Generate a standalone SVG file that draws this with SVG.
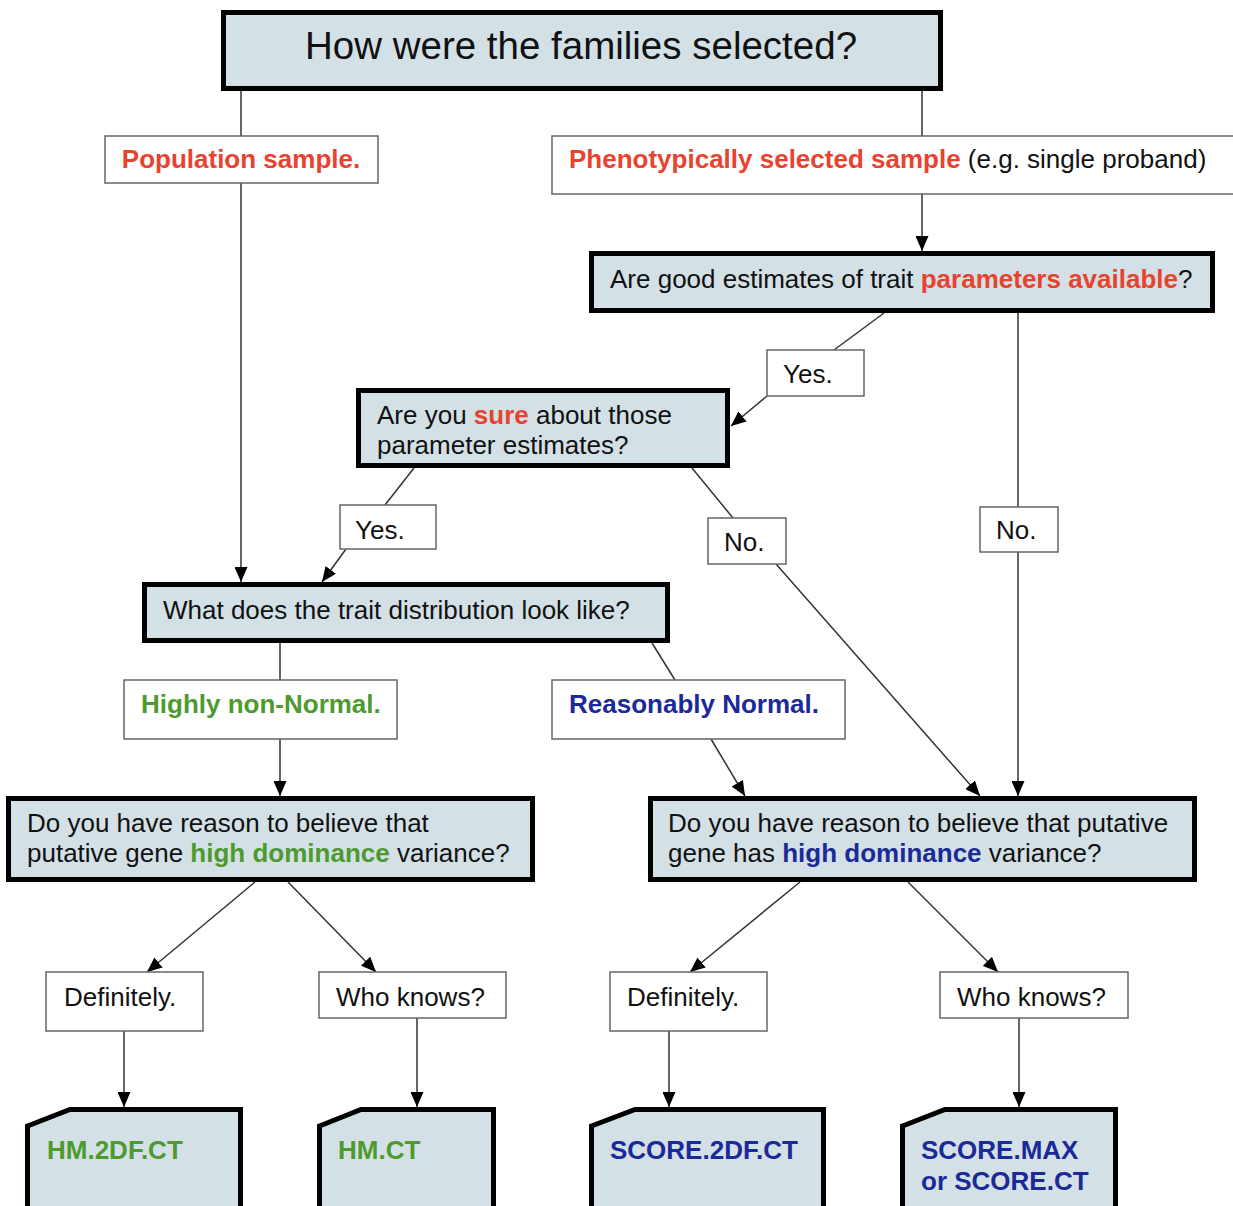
<svg xmlns="http://www.w3.org/2000/svg" width="1233" height="1206" viewBox="0 0 1233 1206">
<defs>
<marker id="ah" viewBox="0 0 15 13" refX="15" refY="6.5" markerWidth="15" markerHeight="13" markerUnits="userSpaceOnUse" orient="auto">
<path d="M0,0 L15,6.5 L0,13 Z" fill="#000"/>
</marker>
<style>
text{font-family:"Liberation Sans",Arial,sans-serif;font-size:26px;fill:#111}
.q{fill:#d3e1e6;stroke:#000;stroke-width:5}
.l{fill:#fff;stroke:#666;stroke-width:1.5}
.c line{stroke:#333;stroke-width:1.5}
.a{marker-end:url(#ah)}
.b{font-weight:bold}
.r{fill:#e8432f}
.g{fill:#4e9a2e}
.u{fill:#1b2a98}
</style>
</defs>
<rect width="1233" height="1206" fill="#fff"/>
<g class="c">
<line x1="241" y1="91" x2="241" y2="136"/>
<line class="a" x1="241" y1="183" x2="241" y2="582"/>
<line x1="922" y1="91" x2="922" y2="136"/>
<line class="a" x1="922" y1="194" x2="922" y2="251"/>
<line x1="884" y1="313" x2="834" y2="350"/>
<line class="a" x1="767" y1="396" x2="731" y2="426"/>
<line x1="1018" y1="313" x2="1018" y2="507"/>
<line class="a" x1="1018" y1="552" x2="1018" y2="796"/>
<line x1="414" y1="468" x2="385" y2="505"/>
<line class="a" x1="346" y1="549" x2="322" y2="582"/>
<line x1="692" y1="468" x2="733" y2="518"/>
<line class="a" x1="776" y1="564" x2="980" y2="796"/>
<line x1="280" y1="643" x2="280" y2="680"/>
<line class="a" x1="280" y1="739" x2="280" y2="796"/>
<line x1="652" y1="643" x2="675" y2="680"/>
<line class="a" x1="711" y1="739" x2="745" y2="796"/>
<line class="a" x1="255" y1="882" x2="147" y2="972"/>
<line class="a" x1="288" y1="882" x2="376" y2="972"/>
<line class="a" x1="800" y1="882" x2="690" y2="972"/>
<line class="a" x1="908" y1="882" x2="998" y2="972"/>
<line class="a" x1="124" y1="1031" x2="124" y2="1107"/>
<line class="a" x1="417" y1="1018" x2="417" y2="1107"/>
<line class="a" x1="669" y1="1031" x2="669" y2="1107"/>
<line class="a" x1="1019" y1="1018" x2="1019" y2="1107"/>
</g>
<g id="n-title">
<rect class="q" x="223.5" y="12.5" width="717" height="76"/>
<text x="581" y="59" text-anchor="middle" style="font-size:38.5px">How were the families selected?</text>
</g>
<g id="n-pop">
<rect class="l" x="105" y="136" width="273" height="47"/>
<text class="b r" x="241" y="168" text-anchor="middle">Population sample.</text>
</g>
<g id="n-pheno">
<rect class="l" x="552" y="136" width="685" height="58"/>
<text x="569" y="168"><tspan class="b r">Phenotypically selected sample</tspan> (e.g. single proband)</text>
</g>
<g id="n-params">
<rect class="q" x="591.5" y="253.5" width="621" height="57"/>
<text x="610" y="288">Are good estimates of trait <tspan class="b r">parameters available</tspan>?</text>
</g>
<g id="n-yes1">
<rect class="l" x="767" y="350" width="97" height="46"/>
<text x="783" y="383">Yes.</text>
</g>
<g id="n-sure">
<rect class="q" x="358.5" y="390.5" width="369" height="75"/>
<text x="377" y="424">Are you <tspan class="b r">sure</tspan> about those</text>
<text x="377" y="454">parameter estimates?</text>
</g>
<g id="n-yes2">
<rect class="l" x="340" y="505" width="96" height="44"/>
<text x="355" y="539">Yes.</text>
</g>
<g id="n-no1">
<rect class="l" x="708" y="518" width="78" height="46"/>
<text x="724" y="551">No.</text>
</g>
<g id="n-no2">
<rect class="l" x="980" y="507" width="78" height="45"/>
<text x="996" y="539">No.</text>
</g>
<g id="n-trait">
<rect class="q" x="144.5" y="584.5" width="523" height="56"/>
<text x="163" y="619">What does the trait distribution look like?</text>
</g>
<g id="n-highly">
<rect class="l" x="124" y="680" width="273" height="59"/>
<text class="b g" x="141" y="713">Highly non-Normal.</text>
</g>
<g id="n-reason">
<rect class="l" x="552" y="680" width="293" height="59"/>
<text class="b u" x="569" y="713">Reasonably Normal.</text>
</g>
<g id="n-domL">
<rect class="q" x="8.5" y="798.5" width="524" height="81"/>
<text x="27" y="832">Do you have reason to believe that</text>
<text x="27" y="862">putative gene <tspan class="b g">high dominance</tspan> variance?</text>
</g>
<g id="n-domR">
<rect class="q" x="650.5" y="798.5" width="544" height="81"/>
<text x="668" y="832">Do you have reason to believe that putative</text>
<text x="668" y="862">gene has <tspan class="b u">high dominance</tspan> variance?</text>
</g>
<g id="n-defL">
<rect class="l" x="46" y="972" width="157" height="59"/>
<text x="64" y="1006">Definitely.</text>
</g>
<g id="n-whoL">
<rect class="l" x="319" y="972" width="187" height="46"/>
<text x="336" y="1006">Who knows?</text>
</g>
<g id="n-defR">
<rect class="l" x="610" y="972" width="157" height="59"/>
<text x="627" y="1006">Definitely.</text>
</g>
<g id="n-whoR">
<rect class="l" x="940" y="972" width="188" height="46"/>
<text x="957" y="1006">Who knows?</text>
</g>
<g id="n-hm2df">
<path class="q" d="M27.5,1126 L70,1109.5 L240.5,1109.5 L240.5,1212 L27.5,1212 Z"/>
<text class="b g" x="47" y="1159">HM.2DF.CT</text>
</g>
<g id="n-hmct">
<path class="q" d="M319.5,1126 L361,1109.5 L493.5,1109.5 L493.5,1212 L319.5,1212 Z"/>
<text class="b g" x="338" y="1159">HM.CT</text>
</g>
<g id="n-score2df">
<path class="q" d="M591.5,1126 L635,1109.5 L823.5,1109.5 L823.5,1212 L591.5,1212 Z"/>
<text class="b u" x="610" y="1159">SCORE.2DF.CT</text>
</g>
<g id="n-scoremax">
<path class="q" d="M902.5,1126 L945,1109.5 L1115.5,1109.5 L1115.5,1212 L902.5,1212 Z"/>
<text class="b u" x="921" y="1159">SCORE.MAX</text>
<text class="b u" x="921" y="1190">or SCORE.CT</text>
</g>
</svg>
